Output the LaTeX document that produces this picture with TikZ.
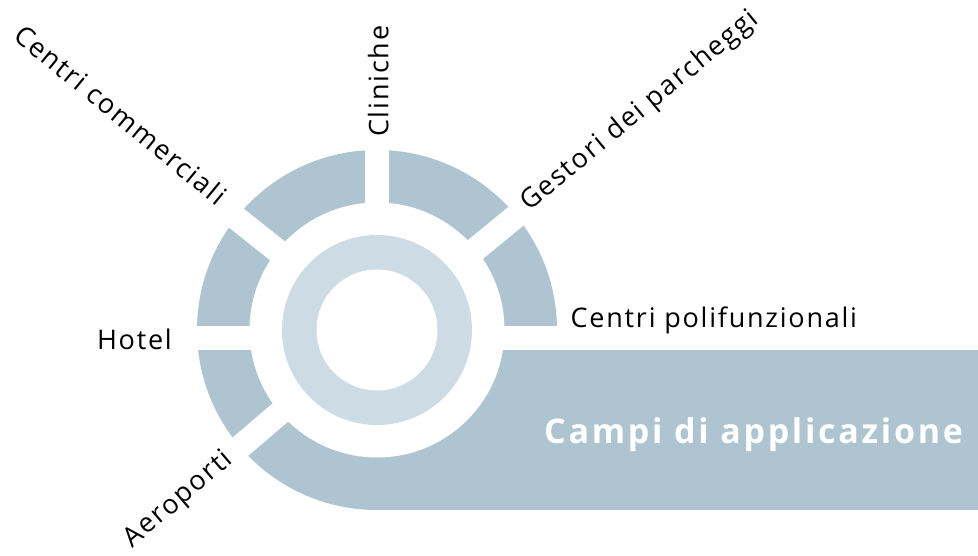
\documentclass[tikz,border=0pt]{standalone}
\usepackage{fontspec}
\setmainfont{Open Sans}
\newfontfamily\labfont[LetterSpace=6.5]{Open Sans}
\newfontfamily\titlefont[LetterSpace=8]{Open Sans}
\definecolor{segblue}{RGB}{174,197,209}
\definecolor{coreblue}{RGB}{205,220,228}
\tikzset{
  lab/.style={font=\labfont\fontsize{27}{32}\selectfont,inner sep=0pt},
  title/.style={font=\titlefont\fontsize{34}{40}\selectfont\bfseries,text=white,inner sep=0pt}
}

\begin{document}
\begin{tikzpicture}[x=1pt,y=1pt]
	\useasboundingbox (0,0) rectangle (978,556);
	\fill[segblue] (377,226) circle(180);
	\fill[segblue] (377,46) rectangle (978,205.7);
	\foreach \a in{39.3,90,141.5,220.5}{
		\draw[white,line width=24pt] (377,226)--++(\a:200);
	}
	\fill[white] (150,205.7) rectangle (600,230.3);
	\fill[white] (377,226) circle(127.5);
	\fill[coreblue] (377,226) circle(95);
	\fill[white] (377,226) circle(60.5);
	
	\node[lab,anchor=base west,rotate=-39.5] (comm) at (12,518) {Centri commerciali};
	\node[lab,anchor=base west,rotate=90] (clin) at (388.3,419) {Cliniche};
	\node[lab,anchor=base west,rotate=39.5] (gest) at (529,344) {Gestori dei parcheggi};
	\node[lab,anchor=base west] (poli) at (570.5,228.3) {Centri polifunzionali};
	\node[lab,anchor=base east] (hotel) at (172,206.7) {Hotel};
	\node[lab,anchor=base west,rotate=40.5] (aero) at (132.5,7.7) {Aeroporti};
	\node[title,anchor=base west] (campi) at (544,112.7) {Campi di applicazione};
\end{tikzpicture}
\end{document}
